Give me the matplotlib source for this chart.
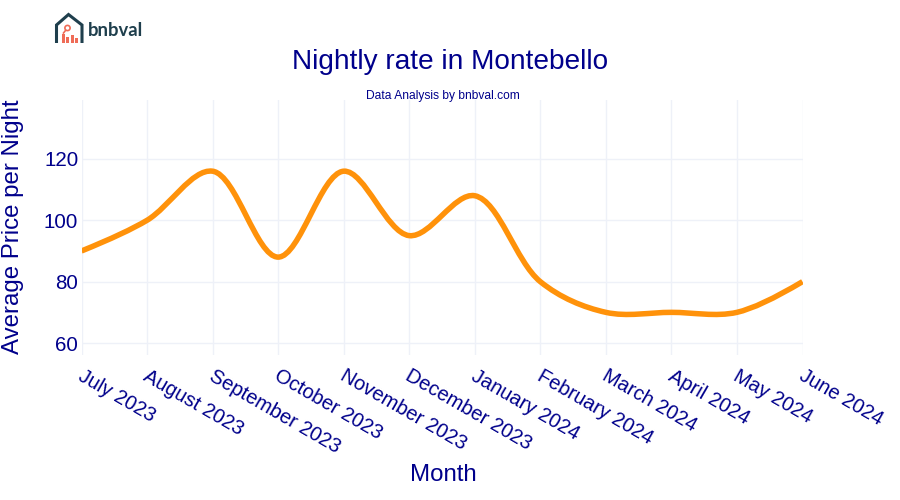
import numpy as np
import matplotlib
matplotlib.use("Agg")
import matplotlib.pyplot as plt
from matplotlib.path import Path
from matplotlib.patches import PathPatch, Circle, Rectangle

months = ["July 2023", "August 2023", "September 2023", "October 2023", "November 2023",
          "December 2023", "January 2024", "February 2024", "March 2024", "April 2024",
          "May 2024", "June 2024"]
prices = [90, 100, 116, 88, 116, 95, 108, 80, 70, 70, 70, 80]
y_ticks = [60, 80, 100, 120]

NAVY = "#00008b"
ORANGE = "#ff920a"
GRID = "#eef1f8"
LOGO = "#1f3f4d"
LOGO_RED = "#ef6c57"


def px(size):
    # sizes in the reference are css pixels, figure is 100 dpi
    return size * 0.72


def spline_path(ax, xs, ys):
    # same smoothing as a plotly spline line, worked out in screen space
    pts = ax.transData.transform(np.column_stack([xs, ys]))
    tangents = []
    for i in range(1, len(pts) - 1):
        d1 = pts[i - 1] - pts[i]
        d2 = pts[i + 1] - pts[i]
        a1 = (d1 @ d1) ** 0.25
        a2 = (d2 @ d2) ** 0.25
        num = (a2 ** 2 * d1 - a1 ** 2 * d2)
        tangents.append((pts[i] + num / (3 * a2 * (a1 + a2)),
                         pts[i] - num / (3 * a1 * (a1 + a2))))
    verts = [pts[0], tangents[0][0], pts[1]]
    codes = [Path.MOVETO, Path.CURVE3, Path.CURVE3]
    for i in range(1, len(tangents)):
        verts += [tangents[i - 1][1], tangents[i][0], pts[i + 1]]
        codes += [Path.CURVE4] * 3
    verts += [tangents[-1][1], pts[-1]]
    codes += [Path.CURVE3] * 2
    return Path(ax.transData.inverted().transform(np.array(verts)), codes)


plt.rcParams["font.family"] = ["Liberation Sans", "DejaVu Sans"]

fig = plt.figure(figsize=(9, 5), dpi=100)
ax = fig.add_axes([81.5 / 900, 1 - 355 / 500, 721 / 900, 255 / 500])

x = np.arange(len(months))
ax.set_xlim(0, len(months) - 1)
ax.set_ylim(56.1, 139.2)

ax.add_patch(PathPatch(spline_path(ax, x, prices), fill=False, edgecolor=ORANGE,
                       linewidth=px(5.5), capstyle="butt", joinstyle="round", zorder=3))

ax.set_xticks(x)
ax.set_xticklabels(months, rotation=-30, ha="left", va="center", rotation_mode="anchor",
                   fontsize=px(20), color=NAVY)
ax.set_yticks(y_ticks)
ax.tick_params(axis="y", labelsize=px(20.5), labelcolor=NAVY, length=0, pad=2.3)
ax.tick_params(axis="x", length=0, pad=14)
ax.grid(True, color=GRID, linewidth=1)
ax.set_axisbelow(True)
for side in ax.spines.values():
    side.set_visible(False)

# nudge month labels to where the reference has them
offset = matplotlib.transforms.ScaledTranslation(-2 / 100, 0, fig.dpi_scale_trans)
for lab in ax.get_xticklabels():
    lab.set_transform(lab.get_transform() + offset)

fig.text(450 / 900, 1 - 62 / 500, "Nightly rate in Montebello", ha="center", va="center",
         fontsize=px(28), color=NAVY)
fig.text(443 / 900, 1 - 96 / 500, "Data Analysis by bnbval.com", ha="center", va="center",
         fontsize=px(12), color=NAVY)
fig.text(13.5 / 900, 1 - 227 / 500, "Average Price per Night", rotation=90, ha="center", va="center",
         fontsize=px(24), color=NAVY)
fig.text(443 / 900, 1 - 475 / 500, "Month", ha="center", va="center",
         fontsize=px(24), color=NAVY)

# logo, drawn on an overlay in pixel coordinates
logo = fig.add_axes([0, 0, 1, 1], facecolor="none")
logo.set_xlim(0, 900)
logo.set_ylim(500, 0)
logo.axis("off")
logo.plot([56.5, 56.5, 68.5, 82, 82], [43, 25, 14.5, 25, 43], color=LOGO, linewidth=2.2,
          solid_joinstyle="miter", solid_capstyle="butt")
logo.add_patch(Circle((67.5, 28), 2.6, fill=False, edgecolor=LOGO_RED, linewidth=1.2))
logo.plot([65.5, 63.5], [30.5, 33], color=LOGO_RED, linewidth=1.2)
for bx, by, bh in [(61.5, 34, 9), (66, 37, 6), (70.5, 35, 8), (75, 38, 5)]:
    logo.add_patch(Rectangle((bx, by), 3, bh, facecolor=LOGO_RED, edgecolor="none"))
logo.text(87.5, 31, "bnbval", ha="left", va="center", fontsize=px(18.5), fontweight="bold",
          family="Lato", color=LOGO)

fig.savefig("out.png", dpi=100)
